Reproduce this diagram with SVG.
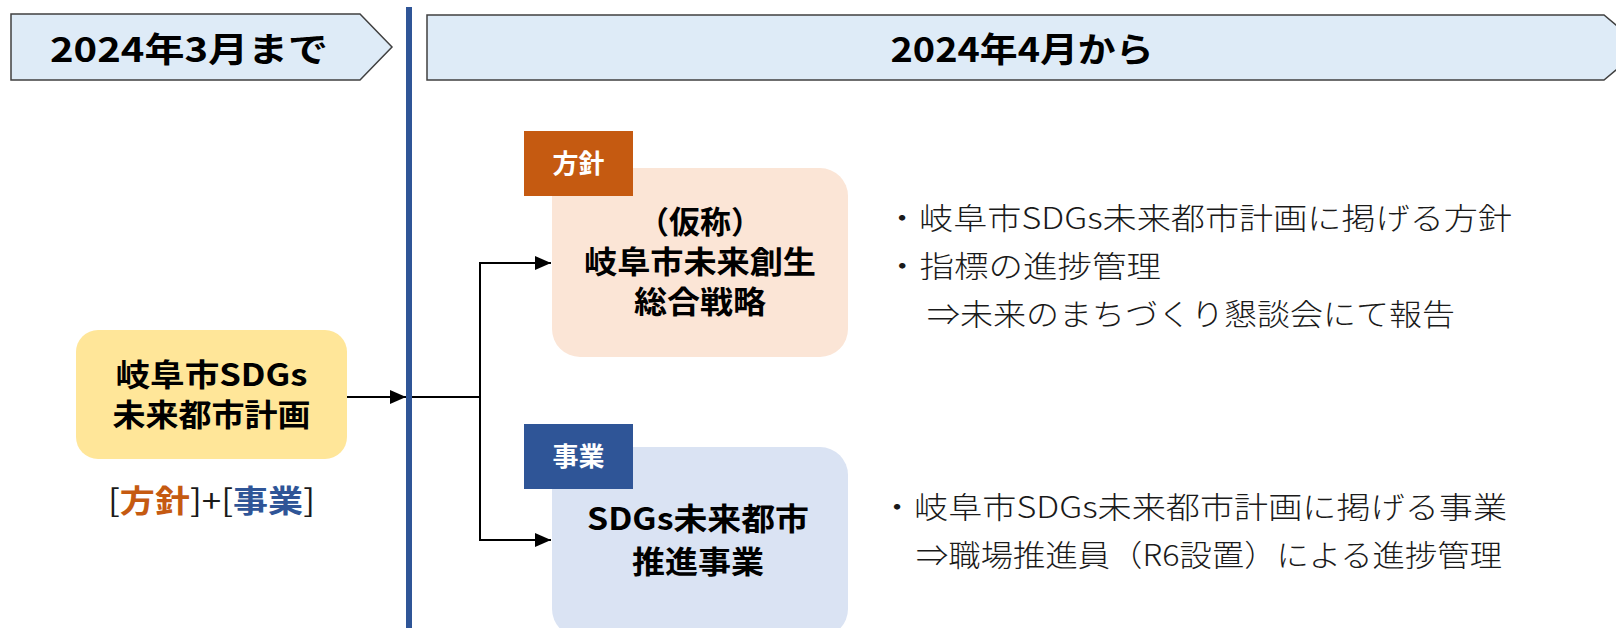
<svg xmlns="http://www.w3.org/2000/svg" width="1616" height="628" viewBox="0 0 1616 628">
<defs>
<style>
text{font-family:"Noto Sans CJK JP","Noto Sans",sans-serif;}
.banner{fill:#DEEBF7;stroke:#404040;stroke-width:1.5;}
.bt{font-size:34px;font-weight:700;fill:#000;text-anchor:middle;}
.nt{font-size:31px;font-weight:700;fill:#000;text-anchor:middle;}
.lt{font-size:26px;font-weight:700;fill:#fff;text-anchor:middle;}
.dt{font-size:30px;font-weight:300;fill:#1a1a1a;}
.conn{stroke:#000;stroke-width:2;fill:none;}
</style>
<marker id="arr" markerUnits="userSpaceOnUse" markerWidth="16" markerHeight="14" refX="16" refY="7" orient="auto">
<path d="M0,0 L16,7 L0,14 Z" fill="#000"/>
</marker>
</defs>
<rect width="1616" height="628" fill="#fff"/>

<g id="banner-before">
<polygon class="banner" points="11,14 360,14 392,47 360,80 11,80"/>
<text class="bt" x="189" y="62" textLength="278" lengthAdjust="spacingAndGlyphs">2024年3月まで</text>
</g>
<g id="banner-after">
<polygon class="banner" points="427,15 1604,15 1643,47.5 1604,80 427,80"/>
<text class="bt" x="1022" y="62" textLength="263" lengthAdjust="spacingAndGlyphs">2024年4月から</text>
</g>

<g id="divider">
<rect x="406" y="7" width="6" height="621" fill="#2F5597"/>
</g>

<g id="connectors">
<line class="conn" x1="347" y1="397" x2="406" y2="397" marker-end="url(#arr)"/>
<polyline class="conn" points="412,397 480,397"/>
<line class="conn" x1="480" y1="262" x2="480" y2="541"/>
<line class="conn" x1="479" y1="263" x2="551" y2="263" marker-end="url(#arr)"/>
<line class="conn" x1="479" y1="540" x2="551" y2="540" marker-end="url(#arr)"/>
</g>

<g id="node-plan">
<rect x="76" y="330" width="271" height="129" rx="22" fill="#FFE699"/>
<text class="nt" x="211.5" y="386" textLength="192" lengthAdjust="spacingAndGlyphs">岐阜市SDGs</text>
<text class="nt" x="211.5" y="426" textLength="198" lengthAdjust="spacingAndGlyphs">未来都市計画</text>
</g>
<g id="plan-caption">
<text x="211.5" y="512" font-size="31" text-anchor="middle" textLength="207" lengthAdjust="spacingAndGlyphs" fill="#1a1a1a">[<tspan fill="#C55A11" font-weight="700">方針</tspan>]+[<tspan fill="#2F5597" font-weight="700">事業</tspan>]</text>
</g>

<g id="node-strategy">
<rect x="552" y="168" width="296" height="189" rx="28" fill="#FBE5D6"/>
<text class="nt" x="700" y="233">（仮称）</text>
<text class="nt" x="700" y="273" textLength="232" lengthAdjust="spacingAndGlyphs">岐阜市未来創生</text>
<text class="nt" x="700" y="313" textLength="132" lengthAdjust="spacingAndGlyphs">総合戦略</text>
</g>
<g id="label-policy">
<rect x="524" y="131" width="109" height="65" fill="#C55A11"/>
<text class="lt" x="578.5" y="173">方針</text>
</g>

<g id="node-projects">
<rect x="552" y="447" width="296" height="190" rx="28" fill="#DAE3F3"/>
<text class="nt" x="698" y="530" textLength="222" lengthAdjust="spacingAndGlyphs">SDGs未来都市</text>
<text class="nt" x="698" y="573" textLength="132" lengthAdjust="spacingAndGlyphs">推進事業</text>
</g>
<g id="label-projects">
<rect x="524" y="424" width="109" height="65" fill="#2F5597"/>
<text class="lt" x="578.5" y="466">事業</text>
</g>

<g id="desc-strategy">
<text class="dt" x="885" y="229" textLength="627" lengthAdjust="spacingAndGlyphs">・岐阜市SDGs未来都市計画に掲げる方針</text>
<text class="dt" x="885" y="277" textLength="276" lengthAdjust="spacingAndGlyphs">・指標の進捗管理</text>
<text class="dt" x="927" y="325" textLength="528" lengthAdjust="spacingAndGlyphs">⇒未来のまちづくり懇談会にて報告</text>
</g>
<g id="desc-projects">
<text class="dt" x="880" y="518" textLength="627" lengthAdjust="spacingAndGlyphs">・岐阜市SDGs未来都市計画に掲げる事業</text>
<text class="dt" x="916" y="566" textLength="586" lengthAdjust="spacingAndGlyphs">⇒職場推進員（R6設置）による進捗管理</text>
</g>
</svg>
